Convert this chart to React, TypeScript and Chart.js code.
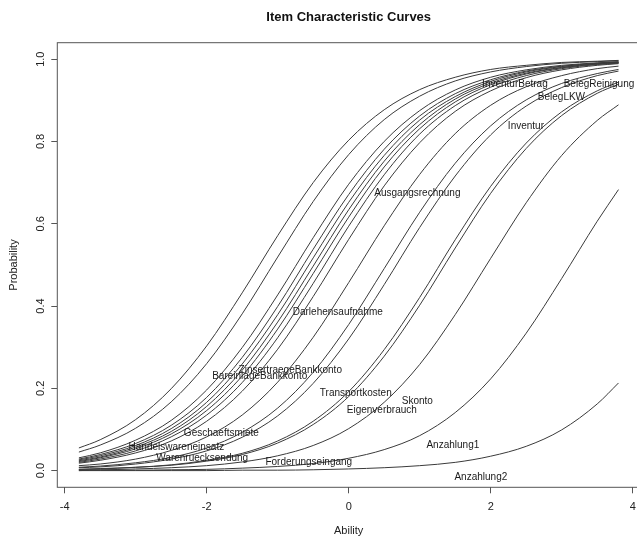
import React, { useEffect, useRef } from "react";
import { Chart, registerables } from "chart.js";

Chart.register(...registerables);

// Ability values at which every curve is sampled
const abilityGrid = [-3.8, -3.5, -3, -2.5, -2, -1.5, -1, -0.5, 0, 0.5, 1, 1.5, 2, 2.5, 3, 3.5, 3.8];

// Probability of a correct answer per item, easiest item first
const icc01 = [0.055, 0.075, 0.124, 0.199, 0.303, 0.432, 0.571, 0.700, 0.803, 0.877, 0.926, 0.956, 0.975, 0.985, 0.992, 0.995, 0.997];
const icc02 = [0.045, 0.062, 0.103, 0.167, 0.260, 0.381, 0.519, 0.654, 0.768, 0.853, 0.910, 0.947, 0.969, 0.982, 0.990, 0.994, 0.996];
const icc03 = [0.031, 0.043, 0.074, 0.122, 0.196, 0.299, 0.427, 0.566, 0.696, 0.800, 0.875, 0.925, 0.956, 0.974, 0.985, 0.991, 0.994];
const icc04 = [0.028, 0.039, 0.066, 0.110, 0.178, 0.275, 0.399, 0.538, 0.671, 0.781, 0.862, 0.916, 0.950, 0.971, 0.983, 0.990, 0.993];
const icc05 = [0.026, 0.036, 0.061, 0.102, 0.166, 0.259, 0.379, 0.517, 0.652, 0.766, 0.852, 0.909, 0.946, 0.969, 0.982, 0.990, 0.992];
const icc06 = [0.024, 0.033, 0.057, 0.095, 0.156, 0.244, 0.361, 0.497, 0.634, 0.752, 0.841, 0.903, 0.942, 0.966, 0.980, 0.989, 0.992];
const icc07 = [0.022, 0.031, 0.053, 0.089, 0.146, 0.230, 0.344, 0.479, 0.616, 0.738, 0.831, 0.896, 0.938, 0.964, 0.979, 0.988, 0.991];
const icc08 = [0.020, 0.028, 0.048, 0.082, 0.135, 0.214, 0.323, 0.455, 0.594, 0.719, 0.818, 0.887, 0.932, 0.960, 0.977, 0.987, 0.990];
const icc09 = [0.018, 0.025, 0.043, 0.072, 0.120, 0.193, 0.295, 0.423, 0.562, 0.692, 0.797, 0.873, 0.923, 0.955, 0.974, 0.985, 0.989];
const icc10 = [0.012, 0.016, 0.028, 0.049, 0.082, 0.135, 0.215, 0.324, 0.457, 0.595, 0.720, 0.819, 0.888, 0.933, 0.960, 0.977, 0.983];
const icc11 = [0.008, 0.011, 0.019, 0.032, 0.055, 0.093, 0.152, 0.239, 0.355, 0.491, 0.628, 0.747, 0.838, 0.901, 0.941, 0.965, 0.975];
const icc12 = [0.007, 0.009, 0.016, 0.028, 0.048, 0.081, 0.133, 0.212, 0.320, 0.452, 0.591, 0.716, 0.816, 0.886, 0.931, 0.960, 0.971];
const icc13 = [0.003, 0.005, 0.008, 0.014, 0.025, 0.042, 0.072, 0.120, 0.192, 0.294, 0.421, 0.561, 0.691, 0.796, 0.872, 0.923, 0.944];
const icc14 = [0.003, 0.004, 0.008, 0.013, 0.023, 0.039, 0.067, 0.112, 0.180, 0.278, 0.402, 0.541, 0.674, 0.783, 0.863, 0.917, 0.939];
const icc15 = [0.002, 0.002, 0.004, 0.007, 0.012, 0.021, 0.036, 0.061, 0.102, 0.166, 0.258, 0.379, 0.516, 0.651, 0.766, 0.851, 0.889];
const icc16 = [0.000, 0.001, 0.001, 0.002, 0.003, 0.006, 0.010, 0.017, 0.030, 0.051, 0.085, 0.141, 0.223, 0.334, 0.467, 0.606, 0.683];
const icc17 = [0.000, 0.000, 0.000, 0.000, 0.000, 0.001, 0.001, 0.002, 0.004, 0.007, 0.012, 0.020, 0.035, 0.059, 0.099, 0.162, 0.213];

const curves = [icc01, icc02, icc03, icc04, icc05, icc06, icc07, icc08, icc09, icc10, icc11, icc12, icc13, icc14, icc15, icc16, icc17];

// Item names written into the plot, with their anchor in (ability, probability)
const itemNames = [
  "InventurBetrag", "BelegReinigung", "BelegLKW", "Inventur", "Ausgangsrechnung",
  "Darlehensaufnahme", "ZinsertraegeBankkonto", "BareinlageBankkonto", "Transportkosten",
  "Skonto", "Eigenverbrauch", "Geschaeftsmiete", "Handelswareneinsatz", "Warenruecksendung",
  "Forderungseingang", "Anzahlung1", "Anzahlung2",
];
const itemNameAbility = [2.341, 3.525, 2.996, 2.496, 0.967, -0.154, -0.823, -1.253, 0.10, 0.967, 0.466, -1.793, -2.427, -2.063, -0.562, 1.467, 1.861];
const itemNameProb = [0.940, 0.940, 0.908, 0.838, 0.675, 0.385, 0.245, 0.230, 0.189, 0.169, 0.147, 0.091, 0.057, 0.030, 0.021, 0.062, -0.016];

const xTickStep = 2;
const yTickStep = 0.2;

const FONT = "'Liberation Sans', Arial, Helvetica, sans-serif";

const framePlugin = {
  id: "frame",
  afterDatasetsDraw(chart: any) {
    const { ctx, chartArea: a } = chart;
    ctx.save();
    ctx.strokeStyle = "#555";
    ctx.lineWidth = 1;
    ctx.strokeRect(a.left, a.top, a.right - a.left, a.bottom - a.top);
    ctx.restore();
  },
};

const itemNamePlugin = {
  id: "itemNames",
  afterDatasetsDraw(chart: any) {
    const { ctx, scales } = chart;
    ctx.save();
    ctx.font = `10px ${FONT}`;
    ctx.fillStyle = "#1a1a1a";
    ctx.textAlign = "center";
    ctx.textBaseline = "middle";
    itemNames.forEach((name, i) => {
      ctx.fillText(
        name,
        scales.x.getPixelForValue(itemNameAbility[i]),
        scales.y.getPixelForValue(itemNameProb[i])
      );
    });
    ctx.restore();
  },
};

export default function App() {
  const canvasRef = useRef<HTMLCanvasElement | null>(null);

  useEffect(() => {
    if (!canvasRef.current) return;
    Chart.defaults.font.family = FONT;
    const chart = new Chart(canvasRef.current, {
      type: "line",
      data: {
        datasets: curves.map((vals, k) => ({
          label: `Item ${k + 1}`,
          data: abilityGrid.map((x, i) => ({ x, y: vals[i] })),
          borderColor: "#3a3a3a",
          borderWidth: 1,
          pointRadius: 0,
          fill: false,
          cubicInterpolationMode: "monotone" as const,
        })),
      },
      options: {
        responsive: false,
        animation: false,
        devicePixelRatio: 1,
        layout: { padding: { left: 0, top: 0, right: 19.9, bottom: 0 } },
        plugins: {
          legend: { display: false },
          tooltip: { enabled: false },
          title: {
            display: true,
            text: "Item Characteristic Curves",
            fullSize: false,
            color: "#111",
            font: { size: 13, weight: "bold" },
            padding: { top: 9.6, bottom: 17.5 },
          },
        },
        scales: {
          x: {
            type: "linear",
            min: -4.104,
            max: 4.104,
            afterFit: (s: any) => {
              s.height = 48.7;
            },
            border: { display: false },
            grid: { drawOnChartArea: false, drawTicks: true, tickLength: 6, color: "#555" },
            ticks: {
              stepSize: xTickStep,
              includeBounds: false,
              autoSkip: false,
              maxRotation: 0,
              padding: 7.3,
              color: "#222",
              font: { size: 11 },
              callback: (v: any) => String(v),
            },
            title: {
              display: true,
              text: "Ability",
              color: "#222",
              font: { size: 11 },
              padding: { top: 0, bottom: -2 },
            },
          },
          y: {
            type: "linear",
            min: -0.0406,
            max: 1.04,
            afterFit: (s: any) => {
              s.width = 57.3;
            },
            border: { display: false },
            grid: { drawOnChartArea: false, drawTicks: true, tickLength: 6, color: "#555" },
            ticks: {
              stepSize: yTickStep,
              includeBounds: false,
              autoSkip: false,
              minRotation: 90,
              maxRotation: 90,
              crossAlign: "center",
              padding: 2.7,
              color: "#222",
              font: { size: 11 },
              callback: (v: any) => Number(v).toFixed(1),
            },
            title: {
              display: true,
              text: "Probability",
              color: "#222",
              font: { size: 11 },
              padding: { top: 7.4, bottom: 0 },
            },
          },
        },
      },
      plugins: [framePlugin, itemNamePlugin],
    } as any);
    return () => chart.destroy();
  }, []);

  return (
    <div
      style={{
        position: "fixed",
        left: 0,
        top: 0,
        width: 637,
        height: 536,
        overflow: "hidden",
        background: "#fff",
      }}
    >
      <canvas ref={canvasRef} width={660} height={536} style={{ display: "block" }} />
    </div>
  );
}
